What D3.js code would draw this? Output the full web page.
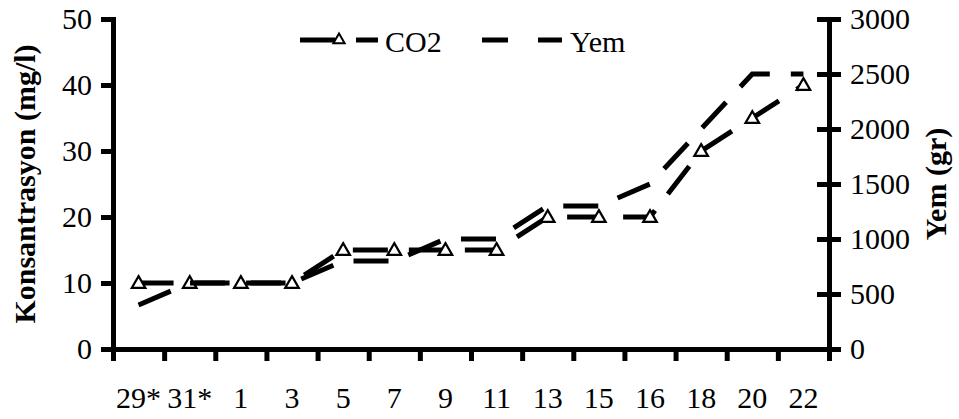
<!DOCTYPE html>
<html>
<head>
<meta charset="utf-8">
<script src="https://cdn.jsdelivr.net/npm/d3@7"></script>
<style>
  html, body { margin: 0; padding: 0; background: #fff; }
  svg { display: block; }
  text { font-family: "Liberation Serif", "Times New Roman", serif; fill: #000; }
</style>
</head>
<body>
<script>
// Sampling days (asterisk = previous month)
const days = ["29*", "31*", "1", "3", "5", "7", "9", "11", "13", "15", "16", "18", "20", "22"];
// CO2 concentration, mg/l (left axis)
const co2 = [10, 10, 10, 10, 15, 15, 15, 15, 20, 20, 20, 30, 35, 40];
// Feed given, g (right axis)
const yem = [400, 600, 600, 600, 800, 800, 1000, 1000, 1300, 1300, 1500, 2000, 2500, 2500];
// Axis tick values
const leftTicks = [0, 10, 20, 30, 40, 50];
const rightTicks = [0, 500, 1000, 1500, 2000, 2500, 3000];
// Legend labels
const seriesNames = ["CO2", "Yem"];

const W = 959, H = 419;
const m = { left: 113, right: 130, top: 19, bottom: 70 };
const x0 = m.left, x1 = W - m.right, yTop = m.top, yBot = H - m.bottom;

const svg = d3.select("body").append("svg").attr("width", W).attr("height", H);

const xBand = d3.scaleBand().domain(days).range([x0, x1]).padding(0);
const xEdge = d3.scaleLinear().domain([0, days.length]).range([x0, x1]);
const yL = d3.scaleLinear().domain([0, 50]).range([yBot, yTop]);
const yR = d3.scaleLinear().domain([0, 3000]).range([yBot, yTop]);
const cx = d => xBand(d) + xBand.bandwidth() / 2;

const FS = 30;
const AX_W = 5;

// Left axis
const gL = svg.append("g").attr("transform", `translate(${x0},0)`)
  .call(d3.axisLeft(yL).tickValues(leftTicks).tickFormat(d3.format("d"))
    .tickSize(12).tickSizeOuter(0).tickPadding(9));
// Right axis (ticks cross the axis line)
const gR = svg.append("g").attr("transform", `translate(${x1},0)`)
  .call(d3.axisRight(yR).tickValues(rightTicks).tickFormat(d3.format("d"))
    .tickSize(12).tickSizeOuter(0).tickPadding(9));
gR.selectAll(".tick line").attr("x1", -12);
// Bottom axis: ticks at category boundaries
const gB = svg.append("g").attr("transform", `translate(0,${yBot})`)
  .call(d3.axisBottom(xEdge).tickValues(d3.range(days.length + 1)).tickFormat("").tickSize(12).tickSizeOuter(0));
// Bottom labels at category centres
const gBL = svg.append("g").attr("transform", `translate(0,${yBot})`)
  .call(d3.axisBottom(xBand).tickSize(0).tickPadding(38));
gBL.select(".domain").remove();

[gL, gR, gB].forEach(g => {
  g.select(".domain").attr("stroke", "#000").attr("stroke-width", AX_W).attr("stroke-linecap", "square");
  g.selectAll(".tick line").attr("stroke", "#000").attr("stroke-width", AX_W);
});
[gL, gR, gBL].forEach(g => {
  g.selectAll("text").attr("font-size", FS).attr("font-family", null).attr("fill", "#000");
});
gL.selectAll(".tick text").attr("dy", "0.32em");
gR.selectAll(".tick text").attr("dy", "0.32em");
gBL.selectAll(".tick text").attr("dy", "0.71em");

// Axis titles
svg.append("text")
  .attr("transform", `translate(35,${(yTop + yBot) / 2}) rotate(-90)`)
  .attr("text-anchor", "middle").attr("font-size", FS).attr("font-weight", "bold")
  .text("Konsantrasyon (mg/l)");
svg.append("text")
  .attr("transform", `translate(946,${(yTop + yBot) / 2}) rotate(-90)`)
  .attr("text-anchor", "middle").attr("font-size", FS).attr("font-weight", "bold")
  .text("Yem (gr)");

const DASH = "35,21";
const LW = 5;

// CO2 series
const co2Line = d3.line().x((d, i) => cx(days[i])).y(d => yL(d));
svg.append("path").datum(co2).attr("d", co2Line)
  .attr("fill", "none").attr("stroke", "#000").attr("stroke-width", LW)
  .attr("stroke-dasharray", DASH).attr("stroke-linecap", "butt");

const tri = d3.symbol().type(d3.symbolTriangle).size(80);
svg.append("g").selectAll("path").data(co2).join("path")
  .attr("d", tri)
  .attr("transform", (d, i) => `translate(${cx(days[i])},${yL(d) + 1})`)
  .attr("fill", "#fff").attr("stroke", "#000").attr("stroke-width", 2.2);

// Yem series
const yemLine = d3.line().x((d, i) => cx(days[i])).y(d => yR(d));
svg.append("path").datum(yem).attr("d", yemLine)
  .attr("fill", "none").attr("stroke", "#000").attr("stroke-width", LW)
  .attr("stroke-dasharray", DASH).attr("stroke-linecap", "butt");

// Legend
const ly = 40;
const lg = svg.append("g");
lg.append("line").attr("x1", 300).attr("x2", 378).attr("y1", ly).attr("y2", ly)
  .attr("stroke", "#000").attr("stroke-width", LW).attr("stroke-dasharray", DASH);
lg.append("path").attr("d", d3.symbol().type(d3.symbolTriangle).size(55))
  .attr("transform", `translate(339,${ly})`)
  .attr("fill", "#fff").attr("stroke", "#000").attr("stroke-width", 2);
lg.append("text").attr("x", 385).attr("y", 52).attr("font-size", FS).text(seriesNames[0]);
lg.append("line").attr("x1", 482).attr("x2", 562).attr("y1", ly).attr("y2", ly)
  .attr("stroke", "#000").attr("stroke-width", LW).attr("stroke-dasharray", "26,30");
lg.append("text").attr("x", 570).attr("y", 52).attr("font-size", FS).text(seriesNames[1]);
</script>
</body>
</html>
